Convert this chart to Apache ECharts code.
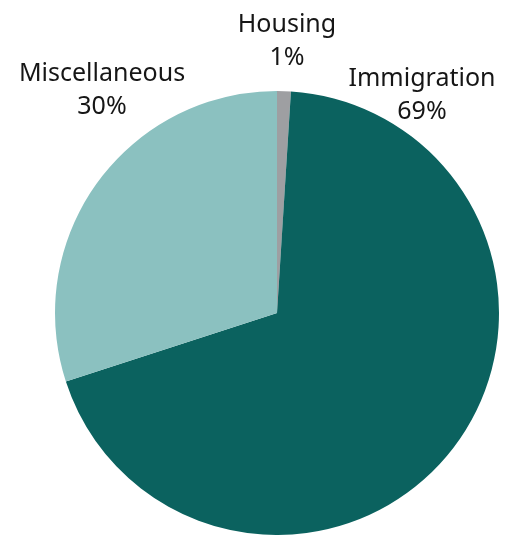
<!DOCTYPE html>
<html>
<head>
<meta charset="utf-8">
<script src="https://cdn.jsdelivr.net/npm/echarts@6/dist/echarts.min.js"></script>
<style>html,body{margin:0;padding:0;background:#fff}#c{width:511px;height:535px}</style>
</head>
<body>
<div id="c"></div>
<script>
const categories = ['Housing', 'Immigration', 'Miscellaneous'];
const values = [1, 69, 30];
const colors = ['#9e9fa2', '#0b625f', '#8bc1c0'];
// label block centres (text placement only)
const labelPos = [[287, 41], [422, 95], [102, 90]];

const chart = echarts.init(document.getElementById('c'), null, {renderer: 'canvas'});
chart.setOption({
  animation: false,
  series: [{
    type: 'pie',
    center: [277, 313],
    radius: 222,
    startAngle: 90,
    clockwise: true,
    avoidLabelOverlap: false,
    data: categories.map((c, i) => ({name: c, value: values[i], itemStyle: {color: colors[i]}})),
    itemStyle: {borderWidth: 0},
    label: {
      show: true,
      position: 'outside',
      formatter: p => p.name + '\n' + Math.round(p.percent) + '%',
      fontFamily: 'Noto Sans',
      fontSize: 25,
      lineHeight: 33,
      color: '#161616',
      align: 'center'
    },
    labelLine: {show: false},
    labelLayout: p => ({
      x: labelPos[p.dataIndex][0],
      y: labelPos[p.dataIndex][1],
      align: 'center',
      verticalAlign: 'middle'
    }),
    emphasis: {disabled: true}
  }]
});
</script>
</body>
</html>
